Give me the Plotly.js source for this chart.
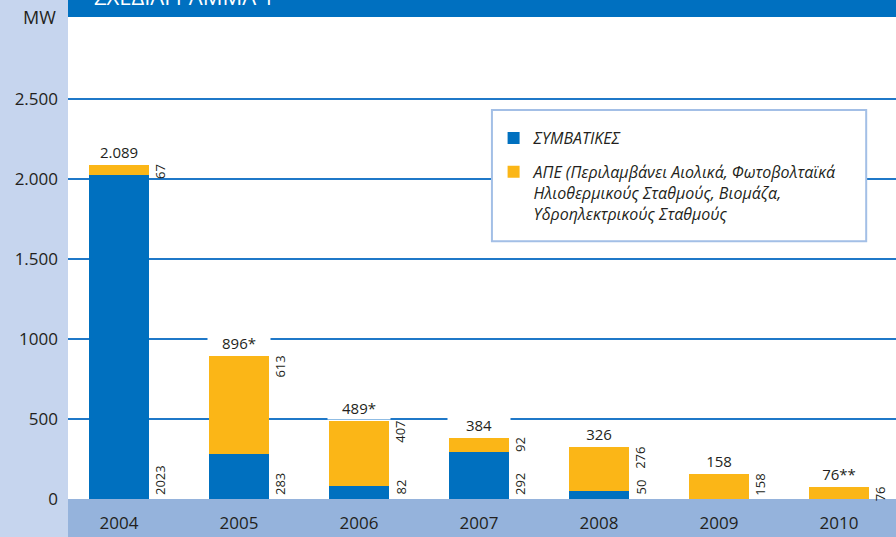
<!DOCTYPE html>
<html>
<head>
<meta charset="utf-8">
<script src="https://cdn.plot.ly/plotly-3.0.1.min.js"></script>
<style>html,body{margin:0;padding:0;background:#c6d5ee;}#chart{width:896px;height:537px;}</style>
</head>
<body>
<div id="chart"></div>
<script>
// ---- data ----
const years = ['2004', '2005', '2006', '2007', '2008', '2009', '2010'];
const conventional = [2023, 283, 82, 292, 50, 0, 0];
const renewables = [67, 613, 407, 92, 276, 158, 76];
const totalLabels = ['2.089', '896*', '489*', '384', '326', '158', '76**'];
const yTickVals = [0, 500, 1000, 1500, 2000, 2500];
const yTickText = ['0', '500', '1000', '1.500', '2.000', '2.500'];
const seriesNames = ['ΣΥΜΒΑΤΙΚΕΣ',
  'ΑΠΕ (Περιλαμβάνει Αιολικά, Φωτοβολταϊκά<br>Ηλιοθερμικούς Σταθμούς, Βιομάζα,<br>Υδροηλεκτρικούς Σταθμούς'];
const chartTitle = 'ΣΧΕΔΙΑΓΡΑΜΜΑ 1';
const unitLabel = 'MW';

// ---- styles ----
const BLUE = '#0070bf', YELLOW = '#fbb617', TXT = '#231f20';
const FONT = 'Open Sans, Noto Sans, sans-serif';

const traces = [
  { type: 'bar', x: years, y: conventional, name: seriesNames[0], legendgroup: 'a',
    marker: { color: BLUE, line: { width: 0 } }, width: 0.5, hoverinfo: 'skip' },
  { type: 'bar', x: years, y: renewables, name: seriesNames[1], legendgroup: 'b',
    marker: { color: YELLOW, line: { width: 0 } }, width: 0.5, hoverinfo: 'skip' }
];

const annotations = [];
years.forEach((yr, i) => {
  const total = conventional[i] + renewables[i];
  annotations.push({ x: i, y: total, xref: 'x', yref: 'y', text: totalLabels[i], showarrow: false,
    yanchor: 'bottom', yshift: 1, width: 60, bgcolor: '#ffffff',
    font: { family: FONT, size: 15, color: TXT } });
  annotations.push({ x: i, y: total, xref: 'x', yref: 'y', text: String(renewables[i]), showarrow: false,
    textangle: -90, xanchor: 'left', yanchor: 'top', xshift: 30, yshift: 2,
    font: { family: FONT, size: 13, color: TXT } });
  if (conventional[i] > 0) {
    annotations.push({ x: i, y: 0, xref: 'x', yref: 'y', text: String(conventional[i]), showarrow: false,
      textangle: -90, xanchor: 'left', yanchor: 'bottom', xshift: 30, yshift: 2,
      font: { family: FONT, size: 13, color: TXT } });
  }
});
annotations.push({ x: 0.029, y: 1, xref: 'paper', yref: 'paper', text: chartTitle, showarrow: false,
  xanchor: 'left', yanchor: 'bottom', yshift: 4, font: { family: FONT, size: 22, color: '#ffffff' } });
annotations.push({ x: -10 / 828, y: 1, xref: 'paper', yref: 'paper', text: unitLabel, showarrow: false,
  xanchor: 'right', yanchor: 'middle', font: { family: FONT, size: 18, color: TXT } });

const shapes = [
  { type: 'rect', xref: 'paper', yref: 'paper', x0: 0, x1: 1, y0: 1, y1: 1.1, layer: 'below',
    fillcolor: '#0070c0', line: { width: 0 } },
  { type: 'rect', xref: 'paper', yref: 'paper', x0: 0, x1: 1, y0: -0.1, y1: 0, layer: 'below',
    fillcolor: '#95b3dc', line: { width: 0 } },
  { type: 'rect', xref: 'paper', yref: 'paper', x0: 0.512, x1: 0.964, y0: 0.535, y1: 0.807, layer: 'above',
    fillcolor: '#ffffff', line: { color: '#a3bfe6', width: 2 } }
];

const layout = {
  width: 896, height: 537,
  margin: { l: 68, r: 0, t: 17, b: 38, pad: 0 },
  paper_bgcolor: '#c6d5ee', plot_bgcolor: '#ffffff',
  barmode: 'stack',
  font: { family: FONT, color: TXT },
  showlegend: true,
  legend: { x: 0.514, y: 0.784, xanchor: 'left', yanchor: 'top', bgcolor: 'rgba(0,0,0,0)', borderwidth: 0,
    traceorder: 'grouped', valign: 'top', tracegroupgap: 10, itemclick: false, itemdoubleclick: false,
    font: { family: FONT, size: 16, style: 'italic', color: TXT } },
  xaxis: { type: 'category', range: [-0.425, 6.475], showgrid: false, zeroline: false, showline: false,
    ticks: '', ticklabelstandoff: 12, tickfont: { family: FONT, size: 17, color: TXT }, fixedrange: true },
  yaxis: { range: [0, 3012], tickmode: 'array', tickvals: yTickVals, ticktext: yTickText,
    showgrid: true, gridcolor: '#1f78c8', gridwidth: 1.3, zeroline: true, zerolinecolor: '#95b3dc', zerolinewidth: 1,
    showline: false, ticks: '', ticklabelstandoff: 9, tickfont: { family: FONT, size: 17, color: TXT }, fixedrange: true },
  annotations: annotations,
  shapes: shapes
};

Plotly.newPlot('chart', traces, layout, { displayModeBar: false, staticPlot: true });
</script>
</body>
</html>
